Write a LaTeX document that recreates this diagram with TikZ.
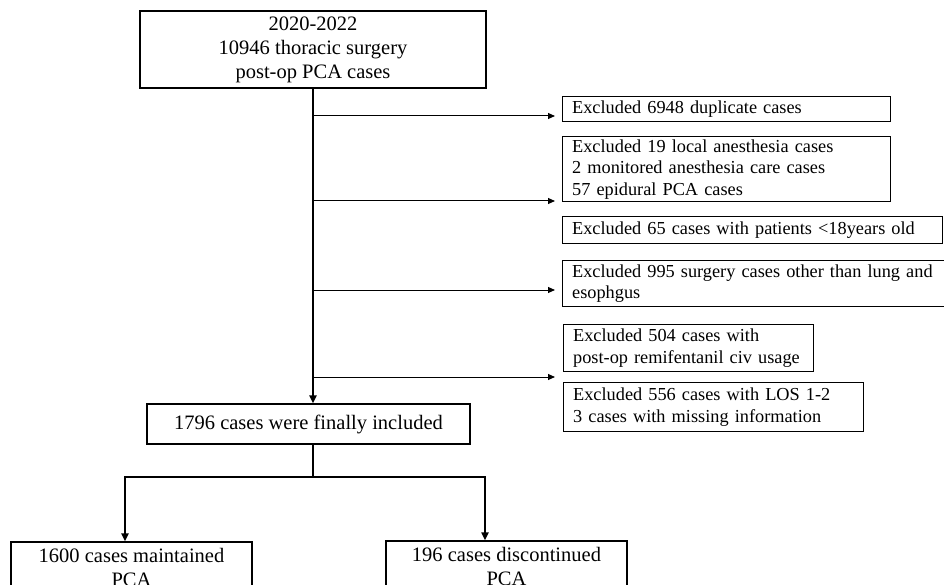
\documentclass[tikz,border=0pt]{standalone}
\usepackage{fontspec}
\setmainfont{Liberation Serif}
\usetikzlibrary{arrows.meta}
\begin{document}
\begin{tikzpicture}[x=1pt,y=-1pt,
  mainbox/.style={draw, line width=1.3pt, inner sep=0pt, align=center, font=\fontsize{20.5}{24}\selectfont},
  exbox/.style={draw, line width=1.3pt, inner xsep=9.5pt, inner ysep=0pt, align=left, anchor=north west, font=\fontsize{18.3}{21.5}\selectfont},
  trunk/.style={line width=2pt},
  trunkarrow/.style={line width=2pt, -{Triangle[length=8pt,width=7pt]}},
  exarrow/.style={line width=1pt, -{Triangle[length=7pt,width=6pt]}}
  ]
\useasboundingbox (0,0) rectangle (944,585);
\fill[white] (0,0) rectangle (944,585);
\clip (0,0) rectangle (944,585);

% main boxes
\node[mainbox, minimum width=346pt, minimum height=77pt] (top) at (313,49.5)
  {2020-2022\\10946 thoracic surgery\\post-op PCA cases};
\node[mainbox, minimum width=323pt, minimum height=40pt] (inc) at (308.5,424)
  {1796 cases were finally included};
\node[mainbox, minimum width=241pt, minimum height=50pt] (left) at (131.5,567)
  {1600 cases maintained\\PCA};
\node[mainbox, minimum width=241pt, minimum height=50pt] (right) at (506.5,566)
  {196 cases discontinued\\PCA};

% exclusion boxes
\node[exbox, text width=309pt, minimum height=25pt] (exA) at (562,96)
  {Excluded 6948 duplicate cases};
\node[exbox, text width=309pt, minimum height=65pt] (exB) at (562,136)
  {Excluded 19 local anesthesia cases\\2 monitored anesthesia care cases\\57 epidural PCA cases};
\node[exbox, text width=361pt, minimum height=27pt] (exC) at (562,216)
  {Excluded 65 cases with patients <18years old};
\node[exbox, text width=374pt, minimum height=46pt] (exD) at (562,260)
  {\makebox[374pt][s]{Excluded 995 surgery cases other than lung and}\\esophgus};
\node[exbox, text width=231pt, minimum height=47pt] (exE) at (563,324)
  {Excluded 504 cases with\\post-op remifentanil civ usage};
\node[exbox, text width=281pt, minimum height=49pt] (exF) at (563,382)
  {Excluded 556 cases with LOS 1-2\\3 cases with missing information};

% trunk
\draw[trunkarrow] (top.south) -- (top.south |- inc.north);

% exclusion arrows
\coordinate (b1) at (313,116);  \coordinate (e1) at (555,116);
\coordinate (b2) at (313,201);  \coordinate (e2) at (555,201);
\coordinate (b3) at (313,290);  \coordinate (e3) at (555,290);
\coordinate (b4) at (313,377);  \coordinate (e4) at (555,377);
\draw[exarrow] (b1) -- (e1);
\draw[exarrow] (b2) -- (e2);
\draw[exarrow] (b3) -- (e3);
\draw[exarrow] (b4) -- (e4);

% branch
\coordinate (j) at (313,477);
\coordinate (jl) at (125,477);
\coordinate (jr) at (485,477);
\draw[trunk] (inc.south -| j) -- (j);
\draw[trunk, line cap=rect] (jl) -- (jr);
\draw[trunkarrow] (jl) -- (jl |- left.north);
\draw[trunkarrow] (jr) -- (jr |- right.north);
\end{tikzpicture}
\end{document}
